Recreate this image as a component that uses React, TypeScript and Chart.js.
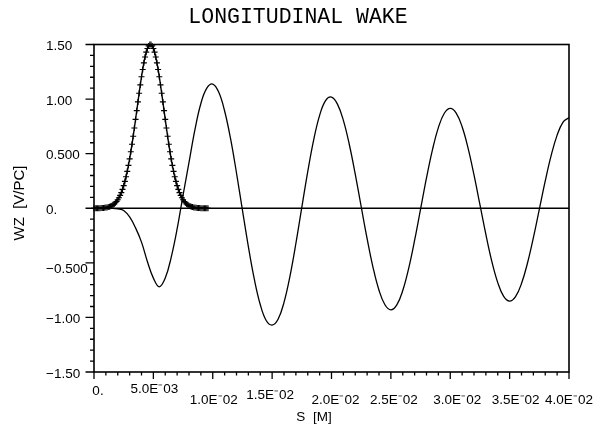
import React, { useEffect, useRef } from "react";
import { Chart, registerables } from "chart.js";

Chart.register(...registerables);

// ---------- data ----------
const TITLE = "LONGITUDINAL WAKE";
const X_TITLE = "S  [M]";
const Y_TITLE = "WZ  [V/PC]";

const X_MIN = 0;
const X_MAX = 0.04;
const Y_MIN = -1.5;
const Y_MAX = 1.5;

const X_TICK_VALUES = [0, 0.005, 0.01, 0.015, 0.02, 0.025, 0.03, 0.035, 0.04];
const X_TICK_LABELS = [
  "0.",
  "5.0E\u207B03",
  "1.0E\u207B02",
  "1.5E\u207B02",
  "2.0E\u207B02",
  "2.5E\u207B02",
  "3.0E\u207B02",
  "3.5E\u207B02",
  "4.0E\u207B02",
];
const Y_TICK_VALUES = [1.5, 1.0, 0.5, 0, -0.5, -1.0, -1.5];
const Y_TICK_LABELS = ["1.50", "1.00", "0.500", "0.", "\u22120.500", "\u22121.00", "\u22121.50"];

// wake potential, sampled every 0.0005 m from s = 0
const WAKE_S_STEP = 0.0005;
const WAKE_WZ = [
  0, 0, 0, 0, -0.005, -0.02, -0.08, -0.18, -0.31, -0.49,
  -0.64, -0.72, -0.64, -0.45, -0.19, 0.12, 0.42, 0.72, 0.96, 1.1,
  1.138, 1.064, 0.891, 0.637, 0.323, -0.017, -0.352, -0.65, -0.882, -1.028,
  -1.07, -1.017, -0.862, -0.623, -0.323, 0.008, 0.336, 0.627, 0.851, 0.986,
  1.018, 0.954, 0.805, 0.584, 0.312, 0.015, -0.279, -0.543, -0.751, -0.884,
  -0.93, -0.885, -0.754, -0.55, -0.293, -0.008, 0.278, 0.535, 0.739, 0.87,
  0.915, 0.872, 0.746, 0.551, 0.305, 0.033, -0.24, -0.486, -0.681, -0.807,
  -0.85, -0.809, -0.69, -0.504, -0.27, -0.01, 0.25, 0.484, 0.67, 0.789,
  0.83,
];

// bunch shape, sampled every 0.0001 m from s = 0
const BUNCH_S_STEP = 0.0001;
const BUNCH_WZ = [
  0.0, 0.0, 0.0, 0.001, 0.001, 0.001, 0.002, 0.002, 0.003, 0.005,
  0.006, 0.008, 0.011, 0.014, 0.019, 0.024, 0.031, 0.039, 0.05, 0.062,
  0.078, 0.096, 0.118, 0.143, 0.173, 0.207, 0.246, 0.289, 0.338, 0.393,
  0.452, 0.517, 0.586, 0.659, 0.735, 0.814, 0.894, 0.974, 1.053, 1.13,
  1.204, 1.271, 1.332, 1.386, 1.43, 1.464, 1.487, 1.499, 1.499, 1.487,
  1.464, 1.43, 1.386, 1.332, 1.271, 1.204, 1.13, 1.053, 0.974, 0.894,
  0.814, 0.735, 0.659, 0.586, 0.517, 0.452, 0.393, 0.338, 0.289, 0.246,
  0.207, 0.173, 0.143, 0.118, 0.096, 0.078, 0.062, 0.05, 0.039, 0.031,
  0.024, 0.019, 0.014, 0.011, 0.008, 0.006, 0.005, 0.003, 0.002, 0.002,
  0.001, 0.001, 0.001, 0.0, 0.0, 0.0, 0.0,
];

// ---------- style ----------
const X_LABEL_DX = [4, 1, 1, -2, 4, 3, 7, 6, 0];
const X_LABEL_Y = [391, 389, 400, 395, 400, 400, 400, 400, 400];
const LABEL_FONT = "13.5px 'Liberation Sans', Arial, sans-serif";

const axesPlugin = {
  id: "oldAxes",
  beforeDatasetsDraw(chart: any) {
    const { ctx, chartArea, scales } = chart;
    const y0 = scales.y.getPixelForValue(0);
    ctx.save();
    ctx.strokeStyle = "#000";
    ctx.lineWidth = 1.4;
    ctx.beginPath();
    ctx.moveTo(chartArea.left, y0);
    ctx.lineTo(chartArea.right, y0);
    ctx.stroke();
    ctx.restore();
  },
  afterDraw(chart: any) {
    const { ctx, chartArea, scales } = chart;
    const { left, right, top, bottom } = chartArea;
    const xs = scales.x;
    const ys = scales.y;
    ctx.save();
    ctx.strokeStyle = "#000";
    ctx.fillStyle = "#000";
    ctx.lineWidth = 1.6;
    ctx.strokeRect(left, top, right - left, bottom - top);

    // y ticks every 0.1
    ctx.lineWidth = 1.3;
    ctx.beginPath();
    for (let k = -15; k <= 15; k++) {
      const py = ys.getPixelForValue(k / 10);
      const len = k % 5 === 0 ? 8.5 : 4;
      ctx.moveTo(left - len, py);
      ctx.lineTo(left, py);
    }
    // x ticks every 0.001
    for (let k = 0; k <= 40; k++) {
      const px = xs.getPixelForValue(k / 1000);
      const len = k % 5 === 0 ? 7 : 3.5;
      ctx.moveTo(px, bottom);
      ctx.lineTo(px, bottom + len);
    }
    ctx.stroke();

    // y labels
    ctx.font = LABEL_FONT;
    ctx.textAlign = "left";
    ctx.textBaseline = "middle";
    Y_TICK_VALUES.forEach((v, i) => {
      const py = ys.getPixelForValue(v);
      const dy = v === -0.5 ? 6 : 2;
      ctx.fillText(Y_TICK_LABELS[i], 46, py + dy);
    });

    // x labels
    ctx.textAlign = "center";
    X_TICK_VALUES.forEach((v, i) => {
      const px = xs.getPixelForValue(v);
      ctx.fillText(X_TICK_LABELS[i], px + X_LABEL_DX[i], X_LABEL_Y[i]);
    });

    // axis titles
    ctx.font = "13.5px 'Liberation Sans', Arial, sans-serif";
    ctx.fillText(X_TITLE, 314, 417);
    ctx.save();
    ctx.translate(20, 203);
    ctx.rotate(-Math.PI / 2);
    ctx.font = "15px 'Liberation Sans', Arial, sans-serif";
    ctx.fillText(Y_TITLE, 0, 0);
    ctx.restore();

    // title
    ctx.font = "21.5px 'Liberation Mono', 'Courier New', monospace";
    ctx.fillText(TITLE, 298, 17);
    ctx.restore();
  },
};

export default function App() {
  const ref = useRef<HTMLCanvasElement | null>(null);

  useEffect(() => {
    document.body.style.margin = "0";
    const canvas = ref.current;
    if (!canvas) return;
    const wakeData = WAKE_WZ.map((v, i) => ({ x: i * WAKE_S_STEP, y: v }));
    const bunchData = BUNCH_WZ.map((v, i) => ({ x: i * BUNCH_S_STEP, y: v }));
    const chart = new Chart(canvas, {
      type: "line",
      data: {
        datasets: [
          {
            label: "wake",
            data: wakeData,
            borderColor: "#000",
            borderWidth: 1.3,
            pointRadius: 0,
            tension: 0.4,
            fill: false,
          },
          {
            label: "bunch",
            data: bunchData,
            borderColor: "#000",
            borderWidth: 1.4,
            pointStyle: "cross",
            pointRadius: 3,
            pointBorderWidth: 1.1,
            pointBorderColor: "#000",
            tension: 0.3,
            fill: false,
            clip: 6,
          } as any,
        ],
      },
      options: {
        responsive: false,
        animation: false,
        devicePixelRatio: 1,
        layout: { padding: { left: 94, right: 35, top: 44.5, bottom: 69 } },
        plugins: {
          legend: { display: false },
          tooltip: { enabled: false },
          title: { display: false },
        },
        scales: {
          x: { type: "linear", min: X_MIN, max: X_MAX, display: false },
          y: { type: "linear", min: Y_MIN, max: Y_MAX, display: false },
        },
      },
      plugins: [axesPlugin],
    });
    return () => chart.destroy();
  }, []);

  return (
    <div style={{ width: 604, height: 441, background: "#fff" }}>
      <canvas ref={ref} width={604} height={441} style={{ display: "block" }} />
    </div>
  );
}
